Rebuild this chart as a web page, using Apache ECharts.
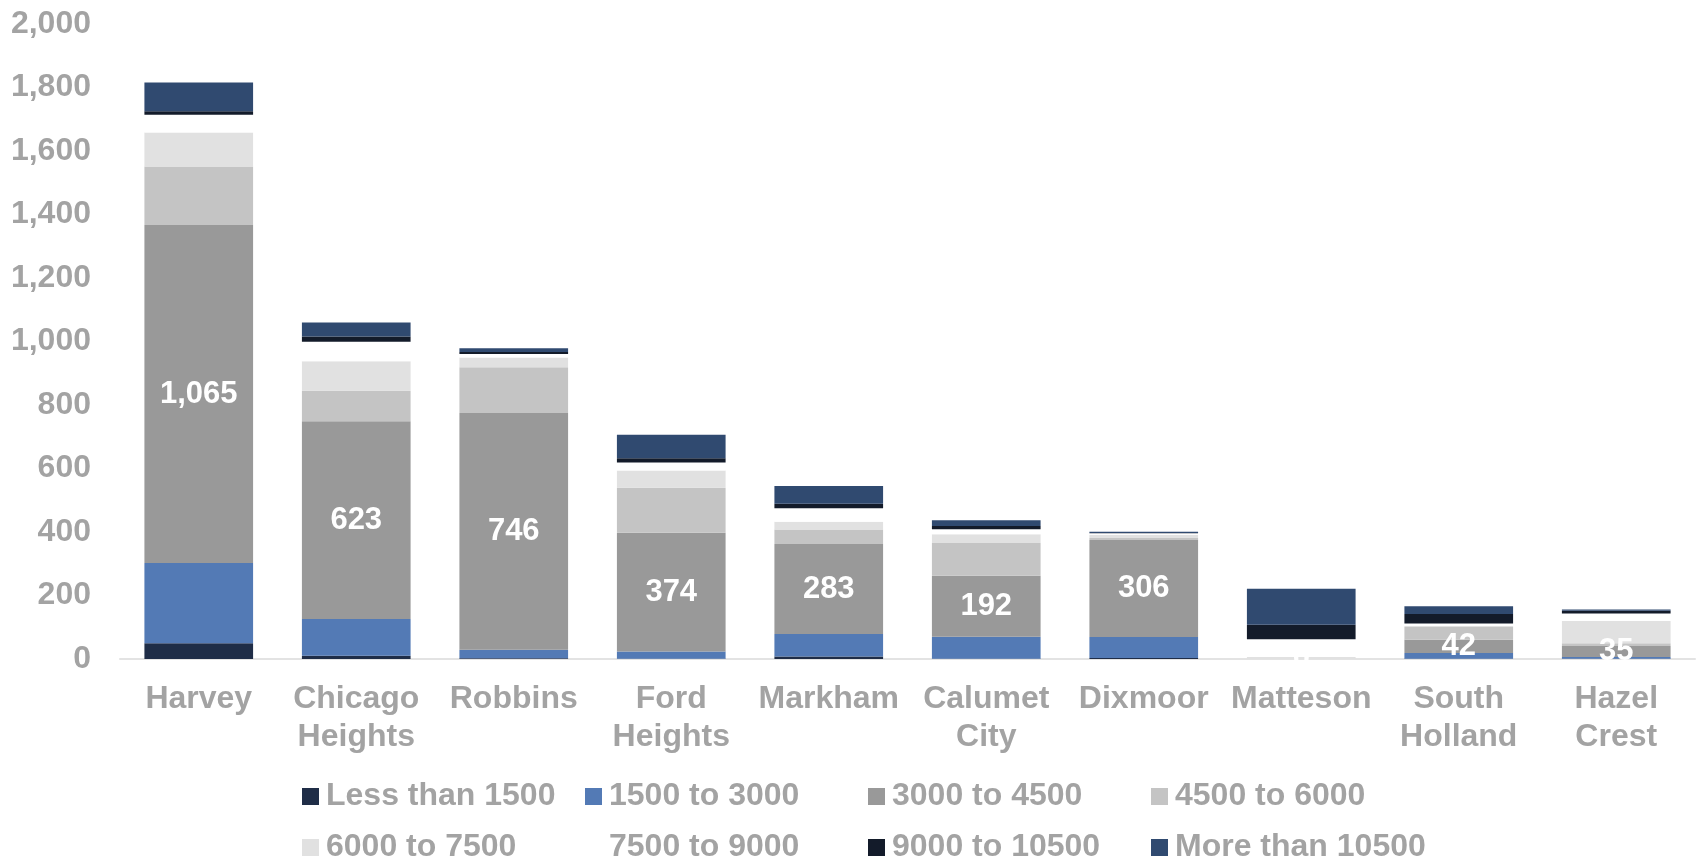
<!DOCTYPE html>
<html>
<head>
<meta charset="utf-8">
<script src="https://cdn.jsdelivr.net/npm/echarts@6/dist/echarts.min.js"></script>
<style>
  html, body { margin: 0; padding: 0; background: #fff; }
  #chart { width: 1698px; height: 859px; }
</style>
</head>
<body>
<div id="chart"></div>
<script>
// categories (x axis)
const categories = ["Harvey", "Chicago\nHeights", "Robbins", "Ford\nHeights", "Markham",
  "Calumet\nCity", "Dixmoor", "Matteson", "South\nHolland", "Hazel\nCrest"];

// series values
const lessThan1500    = [50, 10, 2, 1, 8, 1, 3, 0, 1, 1];
const from1500to3000  = [252, 116, 27, 23, 71, 69, 66, 0, 18, 5];
const from3000to4500  = [1065, 623, 746, 374, 283, 192, 306, 0, 42, 35];
const from4500to6000  = [184, 96, 144, 141, 46, 103, 6, 0, 40, 9];
const from6000to7500  = [107, 93, 31, 55, 24, 28, 10, 6, 3, 70];
const from7500to9000  = [56, 61, 11, 25, 43, 16, 5, 56, 8, 23];
const from9000to10500 = [11, 17, 6, 13, 14, 10, 1, 46, 30, 9];
const moreThan10500   = [91, 44, 12, 74, 56, 18, 4, 113, 24, 4];

const seriesNames = ["Less than 1500", "1500 to 3000", "3000 to 4500", "4500 to 6000",
  "6000 to 7500", "7500 to 9000", "9000 to 10500", "More than 10500"];
const seriesData = [lessThan1500, from1500to3000, from3000to4500, from4500to6000,
  from6000to7500, from7500to9000, from9000to10500, moreThan10500];
const colors = ["#1f2d47", "#537ab5", "#999999", "#c4c4c4",
  "#e1e1e1", "#ffffff", "#131b2a", "#304a70"];

const yTicks = { min: 0, max: 2000, interval: 200 };

const gray = "#a3a3a3";
const font = "Liberation Sans, Arial, sans-serif";

let myChart = echarts.init(document.getElementById("chart"));
myChart.setOption({
  animation: false,
  textStyle: { fontFamily: font },
  grid: { left: 120, right: 3, top: 24, bottom: 200, containLabel: false },
  legend: {
    left: 297,
    top: 766,
    width: 1140,
    itemGap: 0,
    itemWidth: 17,
    itemHeight: 17,
    icon: "rect",
    data: seriesNames,
    textStyle: {
      color: gray,
      fontSize: 32,
      fontWeight: "bold",
      fontFamily: font,
      width: 259,
      lineHeight: 51,
      padding: [0, 0, 0, 2],
    },
  },
  xAxis: {
    type: "category",
    data: categories,
    axisLine: { show: true, lineStyle: { color: "#e3e3e3", width: 2 } },
    axisTick: { show: false },
    axisLabel: {
      color: gray,
      fontSize: 32,
      fontWeight: "bold",
      fontFamily: font,
      lineHeight: 38,
      margin: 21,
      interval: 0,
    },
  },
  yAxis: {
    type: "value",
    min: yTicks.min,
    max: yTicks.max,
    interval: yTicks.interval,
    splitLine: { show: false },
    axisLine: { show: false },
    axisTick: { show: false },
    axisLabel: {
      color: gray,
      fontSize: 32,
      fontWeight: "bold",
      fontFamily: font,
      margin: 29,
      formatter: (v) => v.toLocaleString("en-US"),
    },
  },
  series: seriesNames.map((name, i) => ({
    name: name,
    type: "bar",
    stack: "total",
    barCategoryGap: "31%",
    data: seriesData[i],
    itemStyle: { color: colors[i] },
    label: i === 2 ? {
      show: true,
      position: "inside",
      color: "#ffffff",
      fontSize: 31,
      fontWeight: "bold",
      fontFamily: font,
      formatter: (p) => p.value.toLocaleString("en-US"),
    } : { show: false },
  })),
});
</script>
</body>
</html>
